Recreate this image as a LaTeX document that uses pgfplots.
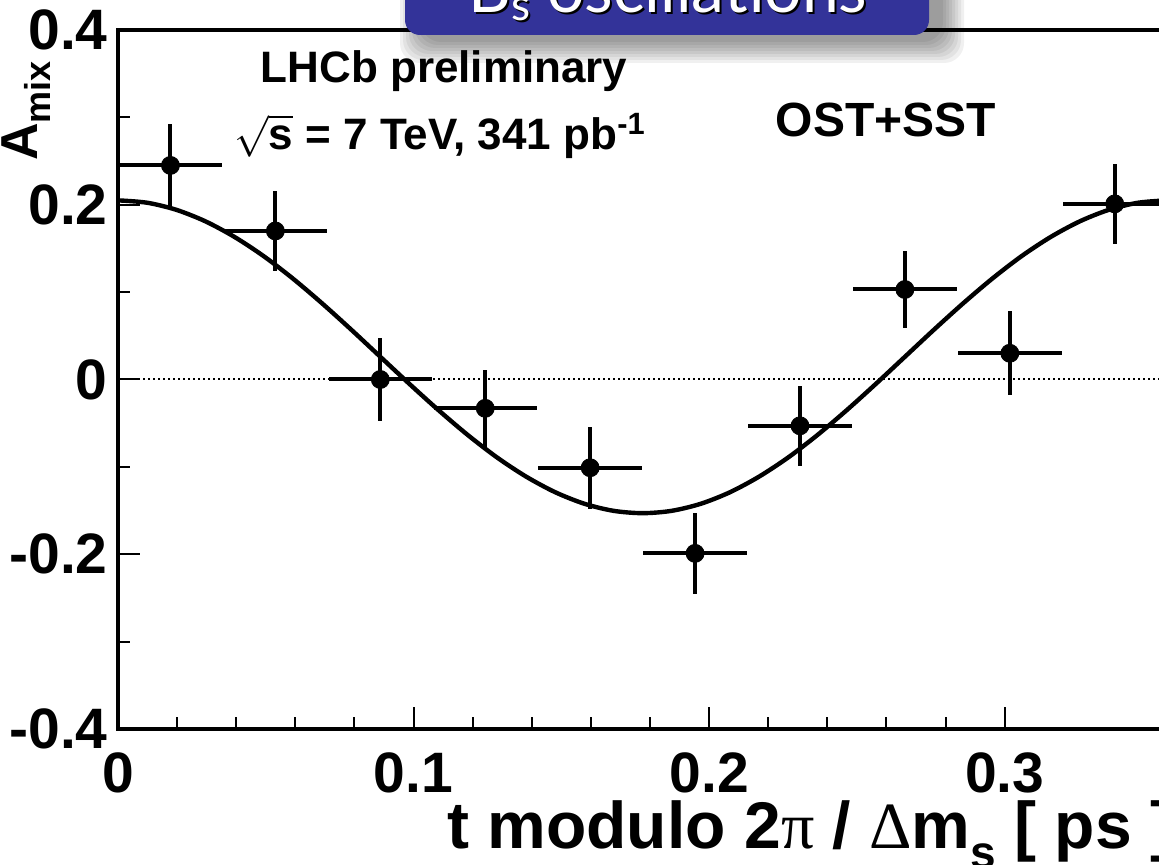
\documentclass[border=0pt]{standalone}
\usepackage{fontspec}
\setmainfont{Liberation Sans}
\newfontfamily\greekserif{Liberation Serif}
\newfontfamily\titlefont{Lato}
\usepackage{pgfplots}
\pgfplotsset{compat=1.18}
\usepackage{pgfplotstable}
\definecolor{titleblue}{RGB}{51,51,153}

\pgfplotstableread{
x        y       ex      ey
0.01775  0.245   0.0175  0.047
0.05325  0.170   0.0175  0.046
0.08875  0.000   0.0175  0.047
0.12425 -0.033   0.0175  0.044
0.15975 -0.101   0.0175  0.047
0.19525 -0.199   0.0175  0.046
0.23075 -0.053   0.0175  0.046
0.26625  0.103   0.0175  0.044
0.30175  0.030   0.0175  0.048
0.33725  0.201   0.0175  0.046
}\datapts

\pgfplotstableread{
t        a
0.00000  0.2050
0.00986  0.2023
0.01972  0.1942
0.02958  0.1810
0.03944  0.1631
0.04931  0.1411
0.05917  0.1155
0.06903  0.0872
0.07889  0.0571
0.08875  0.0260
0.09861 -0.0051
0.10847 -0.0352
0.11833 -0.0635
0.12819 -0.0891
0.13806 -0.1111
0.14792 -0.1290
0.15778 -0.1422
0.16764 -0.1503
0.17750 -0.1530
0.18736 -0.1503
0.19722 -0.1422
0.20708 -0.1290
0.21694 -0.1111
0.22681 -0.0891
0.23667 -0.0635
0.24653 -0.0352
0.25639 -0.0051
0.26625  0.0260
0.27611  0.0571
0.28597  0.0872
0.29583  0.1155
0.30569  0.1411
0.31556  0.1631
0.32542  0.1810
0.33528  0.1942
0.34514  0.2023
0.35500  0.2050
}\fitcurve

\begin{document}
\begin{tikzpicture}
\useasboundingbox (0,0) rectangle (579.5pt,432.5pt);
\begin{axis}[
  at={(59pt,68pt)}, anchor=south west,
  scale only axis, width=524.6pt, height=349.5pt,
  xmin=0, xmax=0.355, ymin=-0.4, ymax=0.4,
  xtick={0,0.1,0.2,0.3}, ytick={-0.4,-0.2,0,0.2,0.4},
  minor x tick num=4, minor y tick num=1,
  xtick pos=left, ytick pos=left,
  tick align=inside,
  major tick length=11pt, minor tick length=6pt,
  tick style={black, line width=1pt},
  axis line style={line width=2.2pt},
  /pgf/number format/assume math mode=true,
  tick label style={font=\fontsize{28.5}{28.5}\selectfont\bfseries, inner sep=0pt},
  xticklabel style={anchor=north, yshift=-11.5pt},
  yticklabel style={anchor=east, xshift=-5pt},
]
\addplot[black, line width=1pt, dash pattern=on 1.2pt off 1.3pt] coordinates {(0,0) (0.355,0)};
\addplot[black, line width=2.2pt, smooth] table[x=t, y=a] {\fitcurve};
\addplot[black, only marks, mark=*, mark size=4.5pt,
  error bars/.cd, x dir=both, x explicit, y dir=both, y explicit,
  error mark=none, error bar style={line width=2pt}]
  table[x=x, y=y, x error=ex, y error=ey] {\datapts};
\end{axis}

% annotations
\node[anchor=base, font=\fontsize{22}{22}\selectfont\bfseries] at (222pt,391pt) {LHCb preliminary};
\node[anchor=base, font=\fontsize{22}{22}\selectfont\bfseries] at (220pt,357.5pt) {$\sqrt{\mbox{\bfseries s}}$ = 7 TeV, 341 pb\textsuperscript{-1}};
\node[anchor=base, font=\fontsize{24}{24}\selectfont\bfseries] at (443pt,364pt) {OST+SST};

% axis titles
\node[anchor=base west, font=\fontsize{33}{33}\selectfont\bfseries, inner sep=0pt] at (223.5pt,8pt)
  {t modulo 2{\greekserif\mdseries π} / {\greekserif\mdseries Δ}m\raisebox{-0.3em}{\fontsize{23}{23}\selectfont s} [ ps ]};
\node[rotate=90, anchor=base east, inner sep=0pt, font=\fontsize{26}{26}\selectfont\bfseries] at (18.5pt,402pt)
  {A\raisebox{-0.25em}{\fontsize{18}{18}\selectfont mix}};

% title banner with shadow
\foreach \i in {1,...,8} {
  \fill[black, opacity=0.06, rounded corners=10pt]
    ({212pt-\i*1.5pt},{413pt-\i*1.5pt}) rectangle ({470pt+\i*1.5pt},460pt);
}
\fill[titleblue, rounded corners=7.5pt] (202.5pt,415pt) rectangle (464.5pt,470pt);
\node[anchor=base, text=black, font=\fontsize{33}{33}\selectfont\titlefont] at (335pt,425pt)
  {B\raisebox{-4pt}{\fontsize{22}{22}\selectfont s} oscillations};
\node[anchor=base, text=white, font=\fontsize{33}{33}\selectfont\titlefont] at (334pt,426pt)
  {B\raisebox{-4pt}{\fontsize{22}{22}\selectfont s} oscillations};
\end{tikzpicture}
\end{document}
